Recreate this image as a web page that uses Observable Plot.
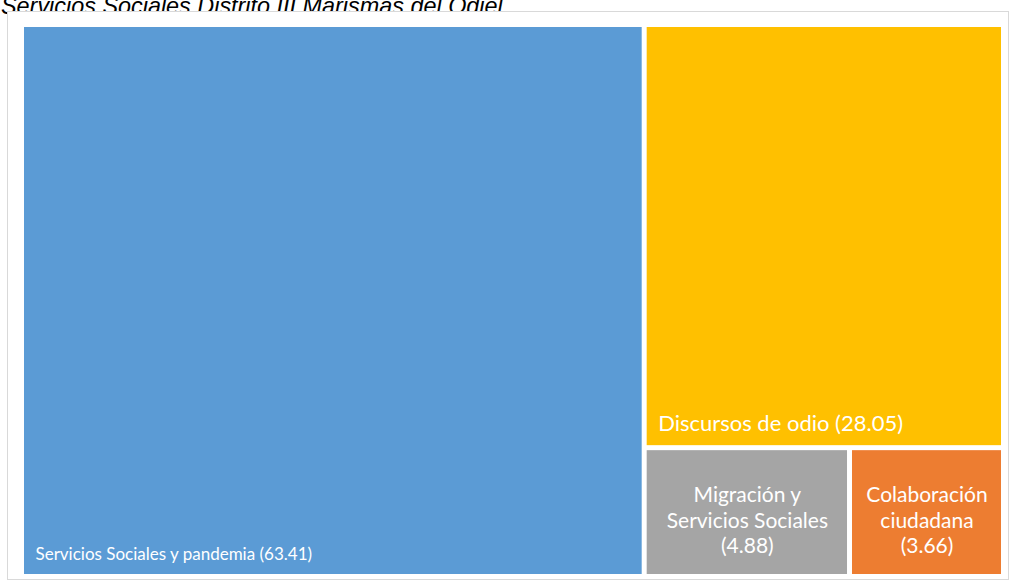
<!DOCTYPE html>
<html>
<head>
<meta charset="utf-8">
<script src="https://cdn.jsdelivr.net/npm/d3@7"></script>
<script src="https://cdn.jsdelivr.net/npm/@observablehq/plot@0.6"></script>
<style>
  html, body { margin: 0; padding: 0; background: #ffffff; overflow: hidden; }
  #wrap { position: relative; width: 1018px; height: 583px; overflow: hidden; }
  #title { position: absolute; left: 1px; top: -5px; font-family: "Liberation Sans", Arial, sans-serif;
           font-style: italic; font-size: 23.4px; line-height: 23px; color: #000; white-space: nowrap; }
  #frame { position: absolute; left: 7px; top: 11px; width: 1002px; height: 569px;
           border: 1px solid #d9d9d9; background: #fff; box-sizing: border-box; }
  #chart { position: absolute; left: 0; top: 0; }
</style>
</head>
<body>
<div id="wrap">
  <div id="title">Servicios Sociales Distrito III Marismas del Odiel.</div>
  <div id="frame"></div>
  <div id="chart"></div>
</div>
<script>
const categories = ["Servicios Sociales y pandemia", "Discursos de odio", "Migración y Servicios Sociales", "Colaboración ciudadana"];
const values = [63.41, 28.05, 4.88, 3.66];
const labelLines = [
  ["Servicios Sociales y pandemia (63.41)"],
  ["Discursos de odio (28.05)"],
  ["Migración y", "Servicios Sociales", "(4.88)"],
  ["Colaboración", "ciudadana", "(3.66)"]
];
const colors = ["#5B9BD5", "#FFC000", "#A5A5A5", "#ED7D31"];
const labelMode = ["corner", "corner", "center", "center"];
const labelSizes = [17, 22, 21, 21];

const W = 977, H = 547;
const root = d3.hierarchy({children: categories.map((c, i) => ({name: c, value: values[i], i}))})
  .sum(d => d.value || 0)
  .sort((a, b) => b.value - a.value);
d3.treemap().size([W, H]).paddingInner(5).tile(d3.treemapSquarify)(root);
const cells = root.leaves().map(l => ({
  name: l.data.name, i: l.data.i, x0: l.x0, x1: l.x1, y0: l.y0, y1: l.y1,
  label: labelLines[l.data.i].join("\n"), mode: labelMode[l.data.i], size: labelSizes[l.data.i]
}));

const corner = cells.filter(d => d.mode === "corner");
const center = cells.filter(d => d.mode === "center");

const chart = Plot.plot({
  width: 1018,
  height: 583,
  margin: 0,
  x: {domain: [0, W], range: [24, 1001], axis: null},
  y: {domain: [0, H], range: [27, 574], axis: null},
  color: {domain: categories, range: colors},
  style: {background: "transparent", fontFamily: "Lato, 'Open Sans', sans-serif"},
  marks: [
    Plot.rect(cells, {x1: "x0", x2: "x1", y1: "y0", y2: "y1", fill: "name"}),
    ...corner.map(d => Plot.text([d], {x: "x0", y: "y1", text: "label", fill: "#ffffff", fontSize: d.size,
      textAnchor: "start", lineAnchor: "bottom", dx: 11, dy: -15})),
    Plot.text(center, {x: d => (d.x0 + d.x1) / 2, y: d => (d.y0 + d.y1) / 2, text: "label",
      fill: "#ffffff", fontSize: 21, lineHeight: 1.22, textAnchor: "middle", lineAnchor: "middle", dy: 7})
  ]
});
document.getElementById("chart").appendChild(chart);
</script>
</body>
</html>
